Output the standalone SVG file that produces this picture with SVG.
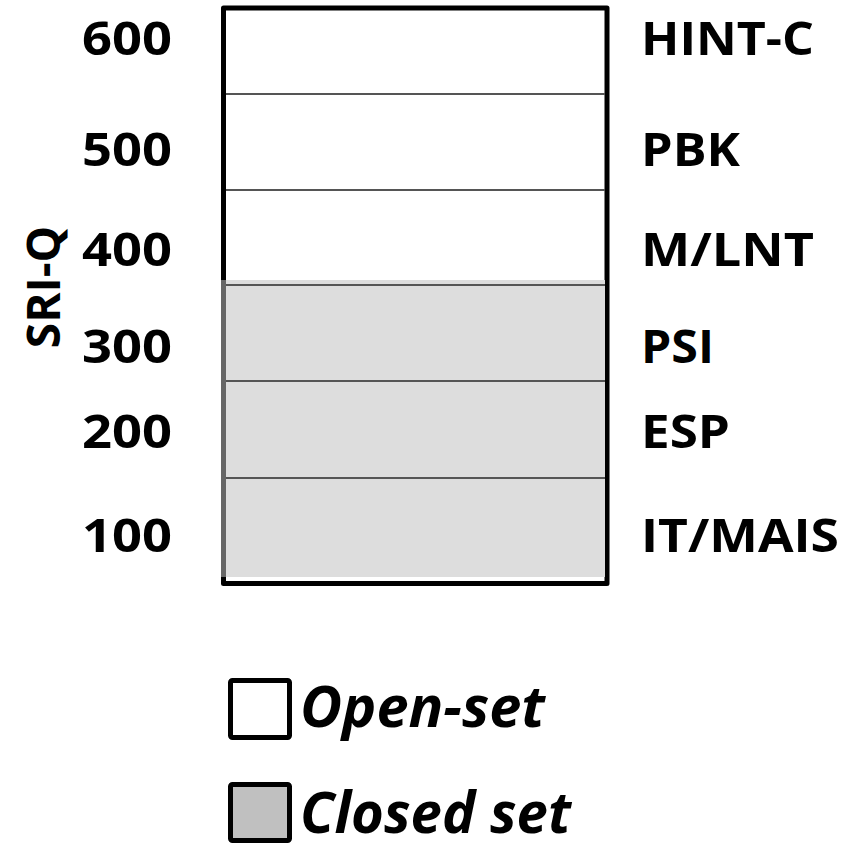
<svg xmlns="http://www.w3.org/2000/svg" width="867" height="843" viewBox="0 0 867 843">
<style>
.lbl{font-family:"Open Sans","Liberation Sans",sans-serif;font-weight:bold;font-size:46px;fill:#000}
.leg{font-family:"Open Sans","Liberation Sans",sans-serif;font-weight:bold;font-style:italic;font-size:58px;fill:#000}
.div{stroke:#555;stroke-width:2}
</style>
<rect width="867" height="843" fill="#fff"/>
<g id="column">
<rect x="223.5" y="8" width="383.5" height="575.5" fill="#fff" stroke="#000" stroke-width="5" stroke-linejoin="round"/>
<rect x="221" y="280" width="384" height="297" fill="#ddd"/>
<line x1="223.5" y1="280" x2="223.5" y2="577" stroke="#666" stroke-width="5"/>
</g>
<g id="dividers">
<line class="div" x1="226" y1="94" x2="605" y2="94"/>
<line class="div" x1="226" y1="190" x2="605" y2="190"/>
<line class="div" x1="226" y1="285" x2="605" y2="285"/>
<line class="div" x1="226" y1="381" x2="605" y2="381"/>
<line class="div" x1="226" y1="478" x2="605" y2="478"/>
</g>
<g id="axis">
<text class="lbl" transform="translate(60,287) rotate(-90)" text-anchor="middle" font-size="40">SRI-Q</text>
<text class="lbl" x="82" y="55" textLength="90" lengthAdjust="spacingAndGlyphs">600</text>
<text class="lbl" x="82" y="166" textLength="90" lengthAdjust="spacingAndGlyphs">500</text>
<text class="lbl" x="82" y="266" textLength="90" lengthAdjust="spacingAndGlyphs">400</text>
<text class="lbl" x="82" y="363" textLength="90" lengthAdjust="spacingAndGlyphs">300</text>
<text class="lbl" x="82" y="448" textLength="90" lengthAdjust="spacingAndGlyphs">200</text>
<text class="lbl" x="82" y="552" textLength="90" lengthAdjust="spacingAndGlyphs">100</text>
</g>
<g id="names">
<text class="lbl" x="641" y="55" textLength="173" lengthAdjust="spacingAndGlyphs">HINT-C</text>
<text class="lbl" x="641" y="166" textLength="99" lengthAdjust="spacingAndGlyphs">PBK</text>
<text class="lbl" x="641" y="266" textLength="173" lengthAdjust="spacingAndGlyphs">M/LNT</text>
<text class="lbl" x="641" y="363" textLength="73" lengthAdjust="spacingAndGlyphs">PSI</text>
<text class="lbl" x="641" y="448" textLength="89" lengthAdjust="spacingAndGlyphs">ESP</text>
<text class="lbl" x="641" y="552" textLength="198" lengthAdjust="spacingAndGlyphs">IT/MAIS</text>
</g>
<g id="legend-open">
<rect x="230.5" y="680.5" width="59" height="57" fill="#fff" stroke="#000" stroke-width="5" rx="2"/>
<text class="leg" x="300" y="727" textLength="245" lengthAdjust="spacingAndGlyphs">Open-set</text>
</g>
<g id="legend-closed">
<rect x="230.5" y="784.5" width="59" height="56" fill="#c0c0c0" stroke="#000" stroke-width="5" rx="2"/>
<text class="leg" x="300" y="833" textLength="271" lengthAdjust="spacingAndGlyphs">Closed set</text>
</g>
</svg>
